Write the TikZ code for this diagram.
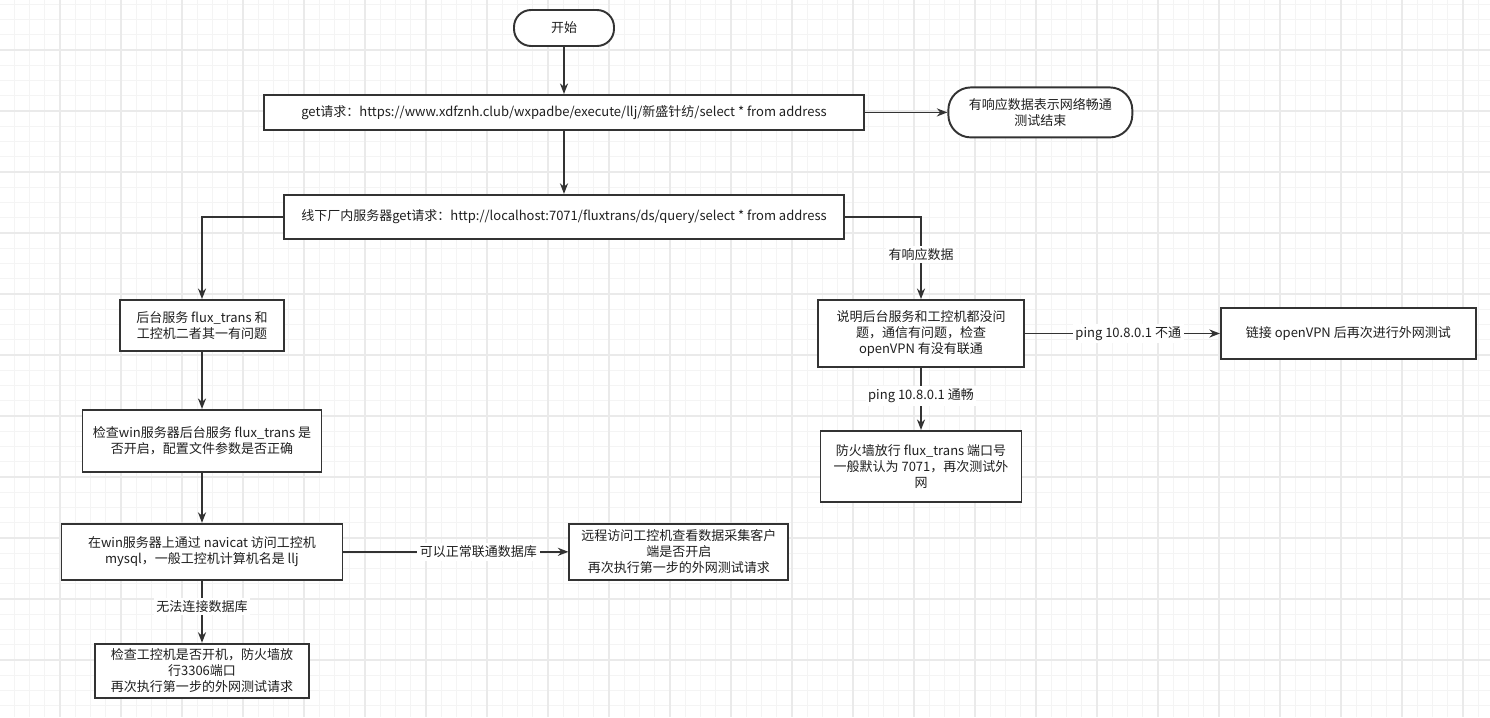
\documentclass[tikz,border=0pt]{standalone}
\usepackage{fontspec}
\setmainfont{Noto Sans CJK SC}
\usepackage{xcolor}
\usepackage{tikz}
\usetikzlibrary{positioning, arrows.meta}
\definecolor{lineC}{HTML}{333333}
\definecolor{gridMinor}{HTML}{F4F4F4}
\definecolor{gridMajor}{HTML}{EAEAEA}

\begin{document}
\begin{tikzpicture}[
  x=0.02cm, y=-0.02cm,
  font=\fontsize{7.4pt}{9.2pt}\selectfont,
  box/.style={draw=lineC, line width=1.1pt, fill=white, align=center,
    inner sep=2pt, text=black!88},
  term/.style={box, rounded corners=0.34cm},
  arrow/.style={-{Stealth[length=6pt,width=4.6pt]}, line width=0.9pt, draw=lineC},
  lbl/.style={fill=white, inner sep=1.5pt, text=black!88},
]
  % background grid
  \fill[white] (0,0) rectangle (1490,717);
  \useasboundingbox (0,0) rectangle (1490,717);
  \foreach \i in {0,...,96}
    \draw[gridMinor, line width=0.6pt] ({14.25+15.25*\i},0) -- ({14.25+15.25*\i},717);
  \foreach \j in {0,...,46}
    \draw[gridMinor, line width=0.6pt] (0,{4.25+15.25*\j}) -- (1490,{4.25+15.25*\j});
  \foreach \i in {0,...,23}
    \draw[gridMajor, line width=0.7pt] ({60+61*\i},0) -- ({60+61*\i},717);
  \foreach \j in {0,...,10}
    \draw[gridMajor, line width=0.7pt] (0,{50+61*\j}) -- (1490,{50+61*\j});

  % main path
  \node[term, minimum width=2.0cm, minimum height=0.72cm] (start) at (564,28) {开始};
  \node[box, minimum width=12.02cm, minimum height=0.70cm, below=0.94cm of start] (get)
    {get请求：https://www.xdfznh.club/wxpadbe/execute/llj/新盛针纺/select * from address};
  \node[term, rounded corners=0.45cm, minimum width=3.68cm, minimum height=1.0cm,
    right=1.64cm of get] (end) {有响应数据表示网络畅通\\测试结束};
  \node[box, minimum width=11.2cm, minimum height=0.88cm, below=1.26cm of get] (lan)
    {线下厂内服务器get请求：http://localhost:7071/fluxtrans/ds/query/select * from address};

  % left branch
  \node[box, minimum width=3.28cm, minimum height=1.02cm] (svc) at (202,325.5)
    {后台服务 flux\_trans 和\\工控机二者其一有问题};
  \node[box, minimum width=4.78cm, minimum height=1.24cm, below=1.14cm of svc] (chkwin)
    {检查win服务器后台服务 flux\_trans 是\\否开启，配置文件参数是否正确};
  \node[box, minimum width=5.62cm, minimum height=1.12cm, below=1.00cm of chkwin] (navi)
    {在win服务器上通过 navicat 访问工控机\\mysql，一般工控机计算机名是 llj};
  \node[box, minimum width=4.28cm, minimum height=1.08cm, below=1.24cm of navi] (chkpc)
    {检查工控机是否开机，防火墙放\\行3306端口\\再次执行第一步的外网测试请求};
  \node[box, minimum width=4.38cm, minimum height=1.12cm, right=4.50cm of navi] (remote)
    {远程访问工控机查看数据采集客户\\端是否开启\\再次执行第一步的外网测试请求};

  % right branch
  \node[box, minimum width=4.12cm, minimum height=1.34cm] (vpn) at (921,333.5)
    {说明后台服务和工控机都没问\\题，通信有问题，检查\\openVPN 有没有联通};
  \node[box, minimum width=5.10cm, minimum height=1.02cm, right=3.90cm of vpn] (relink)
    {链接 openVPN 后再次进行外网测试};
  \node[box, minimum width=4.02cm, minimum height=1.42cm, below=1.24cm of vpn] (fw)
    {防火墙放行 flux\_trans 端口号\\一般默认为 7071，再次测试外\\网};

  \draw[arrow] (start) -- (get);
  \draw[arrow] (get) -- (end);
  \draw[arrow] (get) -- (lan);
  \draw[arrow] (lan.west) -| (svc);
  \draw[arrow] (lan.east) -| node[lbl, pos=0.73] {有响应数据} (vpn);
  \draw[arrow] (svc) -- (chkwin);
  \draw[arrow] (chkwin) -- (navi);
  \draw[arrow] (navi) -- node[lbl, pos=0.42] {无法连接数据库} (chkpc);
  \draw[arrow] (navi) -- node[lbl, pos=0.6] {可以正常联通数据库} (remote);
  \draw[arrow] (vpn) -- node[lbl, pos=0.53] {ping 10.8.0.1 不通} (relink);
  \draw[arrow] (vpn) -- node[lbl, pos=0.45] {ping 10.8.0.1 通畅} (fw);
\end{tikzpicture}
\end{document}
